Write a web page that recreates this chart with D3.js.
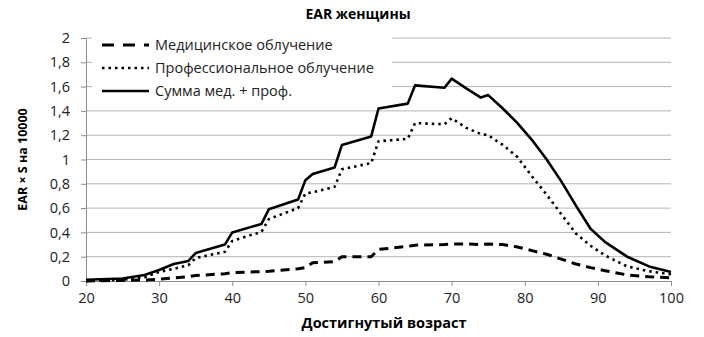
<!DOCTYPE html>
<html>
<head>
<meta charset="utf-8">
<script src="https://cdn.jsdelivr.net/npm/d3@7"></script>
<style>
  body { margin: 0; background: #fff; }
  svg { display: block; font-family: "Open Sans", sans-serif; }
</style>
</head>
<body>
<svg id="chart" width="704" height="337"></svg>
<script>
// возраст (лет)
const ages = [20, 25, 28, 30, 32, 34, 35, 39, 40, 44, 45, 49, 50, 51, 54, 55, 59, 60, 64, 65,
              69, 70, 72, 74, 75, 77, 79, 81, 83, 85, 87, 89, 91, 94, 97, 100];

const medical = [0.0, 0.005, 0.008, 0.015, 0.025, 0.035, 0.045, 0.06, 0.07, 0.077, 0.08, 0.10, 0.11, 0.15,
                 0.16, 0.20, 0.20, 0.26, 0.285, 0.295, 0.30, 0.305, 0.305, 0.30, 0.305, 0.30, 0.28,
                 0.25, 0.22, 0.18, 0.14, 0.11, 0.085, 0.05, 0.035, 0.025];

const professional = [0.0, 0.01, 0.03, 0.075, 0.10, 0.13, 0.19, 0.24, 0.33, 0.405, 0.51, 0.60, 0.72, 0.73,
                      0.775, 0.92, 0.97, 1.15, 1.17, 1.30, 1.29, 1.34, 1.26, 1.21, 1.20, 1.12, 1.02,
                      0.86, 0.71, 0.55, 0.39, 0.29, 0.21, 0.12, 0.08, 0.055];

const total = [0.01, 0.02, 0.05, 0.09, 0.14, 0.165, 0.23, 0.30, 0.40, 0.47, 0.59, 0.67, 0.83, 0.88,
               0.935, 1.12, 1.19, 1.42, 1.46, 1.61, 1.59, 1.665, 1.585, 1.51, 1.53, 1.42, 1.30,
               1.16, 1.00, 0.82, 0.62, 0.43, 0.32, 0.20, 0.12, 0.075];

const xTicks = [20, 30, 40, 50, 60, 70, 80, 90, 100];
const yTicks = [0, 0.2, 0.4, 0.6, 0.8, 1, 1.2, 1.4, 1.6, 1.8, 2];

const seriesNames = ["Медицинское облучение", "Профессиональное облучение", "Сумма мед. + проф."];

const svg = d3.select("#chart");
const width = 704, height = 337;
const margin = { top: 38, right: 33, bottom: 56, left: 86 };
const innerWidth = width - margin.left - margin.right;
const innerHeight = height - margin.top - margin.bottom;

const g = svg.append("g").attr("transform", `translate(${margin.left},${margin.top})`);

const x = d3.scaleLinear().domain([20, 100]).range([0, innerWidth]);
const y = d3.scaleLinear().domain([0, 2]).range([innerHeight, 0]);

const fmt = d => String(+d.toFixed(1)).replace(".", ",");

// сетка
g.append("g")
    .selectAll("line")
    .data(yTicks.filter(d => d > 0))
    .join("line")
    .attr("x1", 0)
    .attr("x2", innerWidth)
    .attr("y1", d => y(d))
    .attr("y2", d => y(d))
    .attr("stroke", "#b4b4b4")
    .attr("stroke-width", 1);

// оси
const yAxis = g.append("g")
    .call(d3.axisLeft(y).tickValues(yTicks).tickFormat(fmt).tickSize(5).tickPadding(11));
const xAxis = g.append("g")
    .attr("transform", `translate(0,${innerHeight})`)
    .call(d3.axisBottom(x).tickValues(xTicks).tickSize(5).tickPadding(7));

[xAxis, yAxis].forEach(a => {
    a.attr("font-family", null).attr("font-size", null);
    a.select(".domain").attr("stroke", "#8c8c8c");
    a.selectAll(".tick line").attr("stroke", "#8c8c8c");
    a.selectAll("text")
        .attr("fill", "#222")
        .style("font-size", "14.5px");
});

// линии
const line = vals => d3.line()
    .x((d, i) => x(ages[i]))
    .y(d => y(d))(vals);

const styles = [
    { vals: medical, dash: "9,6", w: 3 },
    { vals: professional, dash: "2.5,4", w: 2.6 },
    { vals: total, dash: null, w: 2.6 }
];

styles.forEach(s => {
    g.append("path")
        .attr("d", line(s.vals))
        .attr("fill", "none")
        .attr("stroke", "#000")
        .attr("stroke-width", s.w)
        .attr("stroke-dasharray", s.dash)
        .attr("stroke-linejoin", "round");
});

// легенда
const legend = svg.append("g").attr("transform", "translate(92,34)");
legend.append("rect")
    .attr("width", 300)
    .attr("height", 66)
    .attr("fill", "#fff");

seriesNames.forEach((name, i) => {
    const row = legend.append("g").attr("transform", `translate(0,${11 + i * 23})`);
    row.append("line")
        .attr("x1", 10)
        .attr("x2", 57)
        .attr("stroke", "#000")
        .attr("stroke-width", styles[i].w)
        .attr("stroke-dasharray", i === 0 ? "12,9" : styles[i].dash);
    row.append("text")
        .attr("x", 63)
        .attr("y", 5)
        .style("font-size", "14.5px")
        .attr("fill", "#222")
        .text(name);
});

// заголовки
svg.append("text")
    .attr("x", 358)
    .attr("y", 19)
    .attr("text-anchor", "middle")
    .style("font-size", "14px")
    .style("font-weight", "bold")
    .text("EAR женщины");

svg.append("text")
    .attr("x", 384)
    .attr("y", 328)
    .attr("text-anchor", "middle")
    .style("font-size", "14.5px")
    .style("font-weight", "bold")
    .text("Достигнутый возраст");

svg.append("text")
    .attr("transform", `translate(27,${margin.top + innerHeight / 2}) rotate(-90)`)
    .attr("text-anchor", "middle")
    .style("font-size", "12.5px")
    .style("font-weight", "bold")
    .text("EAR × S на 10000");
</script>
</body>
</html>
